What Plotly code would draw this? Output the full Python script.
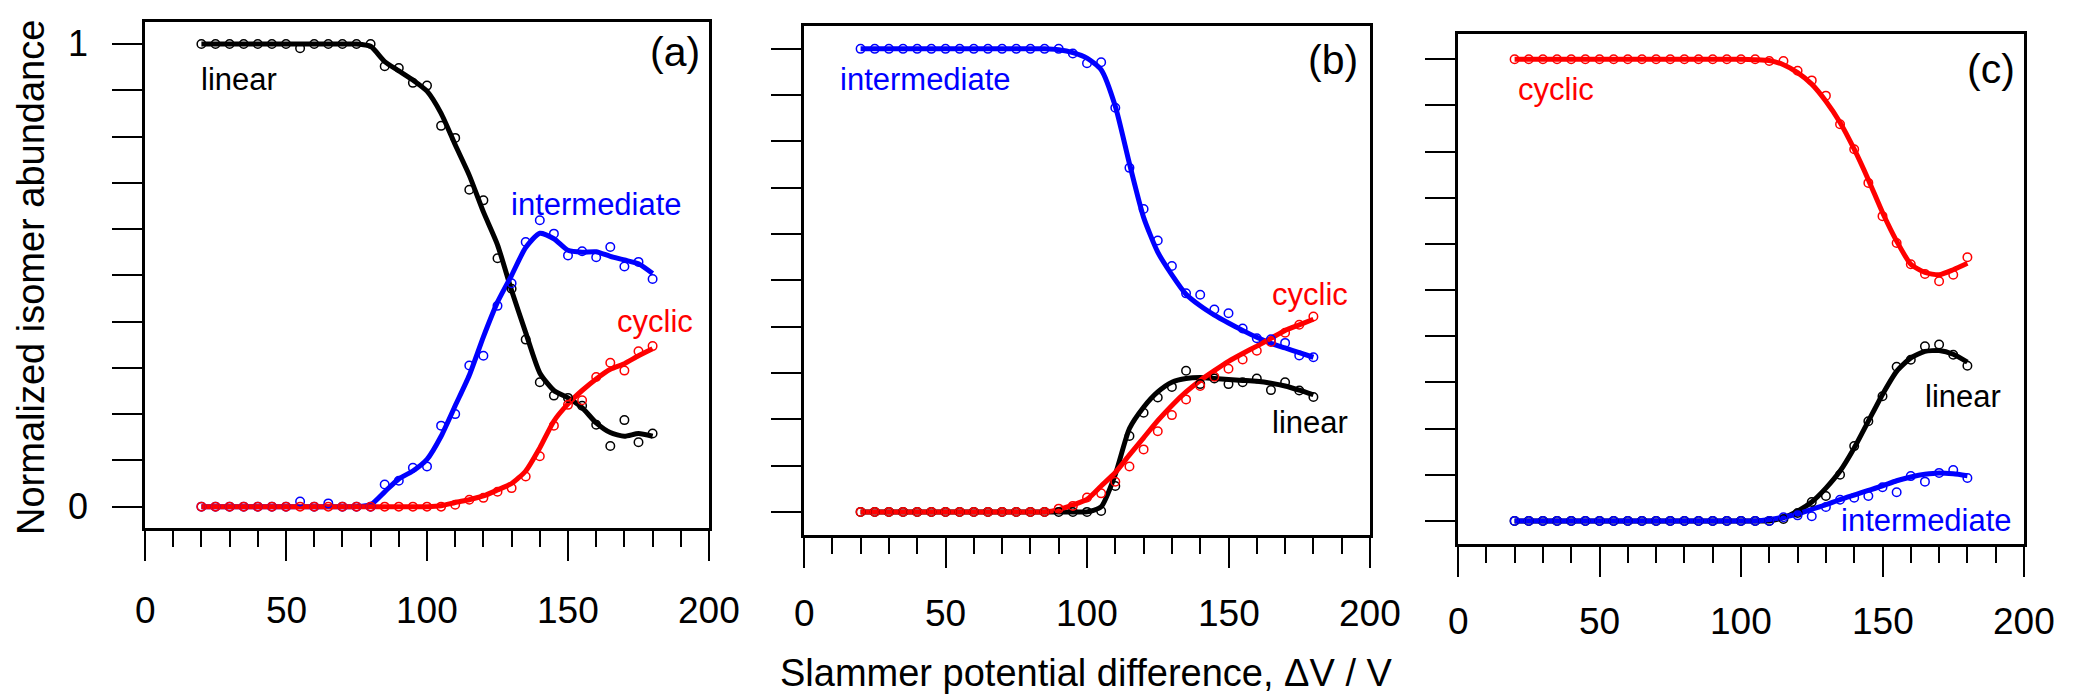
import plotly.graph_objects as go

# ---------------- data ----------------
voltage = [20, 25, 30, 35, 40, 45, 50, 55, 60, 65, 70, 75, 80, 85, 90, 95, 100,
           105, 110, 115, 120, 125, 130, 135, 140, 145, 150, 155, 160, 165, 170, 175, 180]

# panel (a)
lin_a_pts = [1.0, 1.0, 1.0, 1.0, 1.0, 1.0, 1.0, 0.991, 1.0, 1.0, 1.0, 1.0, 1.0,
             0.952, 0.948, 0.916, 0.910, 0.823, 0.797, 0.685, 0.662, 0.537, 0.471, 0.361,
             0.269, 0.240, 0.235, 0.218, 0.177, 0.131, 0.187, 0.139, 0.158]
lin_a_fit = [1.0, 1.0, 1.0, 1.0, 1.0, 1.0, 1.0, 1.0, 1.0, 1.0, 1.0, 1.0, 0.995,
             0.962, 0.942, 0.922, 0.898, 0.850, 0.782, 0.716, 0.637, 0.566, 0.467, 0.376,
             0.289, 0.251, 0.235, 0.214, 0.181, 0.160, 0.152, 0.158, 0.152]
int_a_pts = [0.0, 0.0, 0.0, 0.0, 0.0, 0.0, 0.0, 0.011, 0.0, 0.007, 0.0, 0.0, 0.0,
             0.048, 0.056, 0.084, 0.087, 0.175, 0.200, 0.305, 0.326, 0.434, 0.483, 0.572,
             0.619, 0.590, 0.543, 0.552, 0.539, 0.561, 0.519, 0.529, 0.492]
int_a_fit = [0.0, 0.0, 0.0, 0.0, 0.0, 0.0, 0.0, 0.0, 0.0, 0.0, 0.0, 0.0, 0.004,
             0.032, 0.060, 0.077, 0.102, 0.152, 0.218, 0.284, 0.367, 0.442, 0.500, 0.560,
             0.591, 0.579, 0.554, 0.550, 0.551, 0.541, 0.533, 0.525, 0.504]
cyc_a_pts = [0.0, 0.0, 0.0, 0.0, 0.0, 0.0, 0.0, 0.0, 0.0, 0.0, 0.0, 0.0, 0.0,
             0.0, 0.0, 0.0, 0.0, 0.0, 0.004, 0.015, 0.019, 0.032, 0.040, 0.065,
             0.109, 0.175, 0.220, 0.230, 0.280, 0.311, 0.294, 0.336, 0.347]
cyc_a_fit = [0.0, 0.0, 0.0, 0.0, 0.0, 0.0, 0.0, 0.0, 0.0, 0.0, 0.0, 0.0, 0.0,
             0.0, 0.0, 0.0, 0.0, 0.002, 0.009, 0.015, 0.023, 0.036, 0.050, 0.077,
             0.127, 0.185, 0.222, 0.251, 0.276, 0.297, 0.309, 0.326, 0.341]

# panel (b)
int_b_pts = [1.0, 1.0, 1.0, 1.0, 1.0, 1.0, 1.0, 1.0, 1.0, 1.0, 1.0, 1.0, 1.0,
             1.0, 1.0, 0.990, 0.969, 0.971, 0.873, 0.743, 0.654, 0.586, 0.531, 0.472,
             0.469, 0.437, 0.429, 0.396, 0.375, 0.373, 0.365, 0.338, 0.334]
int_b_fit = [1.0, 1.0, 1.0, 1.0, 1.0, 1.0, 1.0, 1.0, 1.0, 1.0, 1.0, 1.0, 1.0,
             1.0, 0.998, 0.992, 0.980, 0.955, 0.876, 0.752, 0.636, 0.561, 0.512, 0.470,
             0.445, 0.425, 0.408, 0.392, 0.377, 0.364, 0.354, 0.344, 0.334]
lin_b_pts = [0.0, 0.0, 0.0, 0.0, 0.0, 0.0, 0.0, 0.0, 0.0, 0.0, 0.0, 0.0, 0.0,
             0.0, 0.0, 0.0, 0.0, 0.002, 0.056, 0.164, 0.214, 0.247, 0.270, 0.305,
             0.276, 0.288, 0.276, 0.280, 0.288, 0.263, 0.280, 0.262, 0.248]
lin_b_fit = [0.0, 0.0, 0.0, 0.0, 0.0, 0.0, 0.0, 0.0, 0.0, 0.0, 0.0, 0.0, 0.0,
             0.0, 0.0, 0.0, 0.0, 0.011, 0.081, 0.180, 0.226, 0.259, 0.280, 0.288,
             0.290, 0.288, 0.286, 0.284, 0.282, 0.278, 0.272, 0.263, 0.253]
cyc_b_pts = [0.0, 0.0, 0.0, 0.0, 0.0, 0.0, 0.0, 0.0, 0.0, 0.0, 0.0, 0.0, 0.0,
             0.0, 0.007, 0.013, 0.031, 0.040, 0.065, 0.098, 0.135, 0.174, 0.209, 0.243,
             0.272, 0.292, 0.309, 0.329, 0.348, 0.367, 0.387, 0.404, 0.422]
cyc_b_fit = [0.0, 0.0, 0.0, 0.0, 0.0, 0.0, 0.0, 0.0, 0.0, 0.0, 0.0, 0.0, 0.0,
             0.0, 0.005, 0.015, 0.027, 0.056, 0.085, 0.123, 0.160, 0.197, 0.230, 0.259,
             0.284, 0.305, 0.325, 0.342, 0.358, 0.375, 0.392, 0.404, 0.416]

# panel (c)
cyc_c_pts = [1.0, 1.0, 1.0, 1.0, 1.0, 1.0, 1.0, 1.0, 1.0, 1.0, 1.0, 1.0, 1.0,
             1.0, 1.0, 1.0, 1.0, 1.0, 0.996, 0.996, 0.975, 0.954, 0.921, 0.859,
             0.805, 0.732, 0.660, 0.602, 0.556, 0.535, 0.519, 0.533, 0.571]
cyc_c_fit = [1.0, 1.0, 1.0, 1.0, 1.0, 1.0, 1.0, 1.0, 1.0, 1.0, 1.0, 1.0, 1.0,
             1.0, 1.0, 1.0, 1.0, 0.999, 0.997, 0.988, 0.971, 0.946, 0.909, 0.863,
             0.805, 0.739, 0.668, 0.606, 0.556, 0.538, 0.533, 0.544, 0.558]
lin_c_pts = [0.0, 0.0, 0.0, 0.0, 0.0, 0.0, 0.0, 0.0, 0.0, 0.0, 0.0, 0.0, 0.0,
             0.0, 0.0, 0.0, 0.0, 0.0, 0.0, 0.004, 0.017, 0.041, 0.054, 0.100,
             0.162, 0.216, 0.270, 0.334, 0.349, 0.378, 0.382, 0.360, 0.336]
lin_c_fit = [0.0, 0.0, 0.0, 0.0, 0.0, 0.0, 0.0, 0.0, 0.0, 0.0, 0.0, 0.0, 0.0,
             0.0, 0.0, 0.0, 0.0, 0.0, 0.0, 0.007, 0.021, 0.041, 0.071, 0.108,
             0.158, 0.216, 0.274, 0.324, 0.353, 0.367, 0.369, 0.361, 0.344]
int_c_pts = [0.0, 0.0, 0.0, 0.0, 0.0, 0.0, 0.0, 0.0, 0.0, 0.0, 0.0, 0.0, 0.0,
             0.0, 0.0, 0.0, 0.0, 0.0, 0.0, 0.008, 0.012, 0.010, 0.030, 0.046,
             0.050, 0.054, 0.073, 0.062, 0.097, 0.085, 0.104, 0.110, 0.093]
int_c_fit = [0.0, 0.0, 0.0, 0.0, 0.0, 0.0, 0.0, 0.0, 0.0, 0.0, 0.0, 0.0, 0.0,
             0.0, 0.0, 0.0, 0.0, 0.0, 0.003, 0.008, 0.015, 0.025, 0.035, 0.046,
             0.056, 0.066, 0.076, 0.087, 0.095, 0.101, 0.104, 0.102, 0.098]

x_tick_vals = [0, 50, 100, 150, 200]
x_tick_text = ["0", "50", "100", "150", "200"]
y_tick_vals = [0, 0.1, 0.2, 0.3, 0.4, 0.5, 0.6, 0.7, 0.8, 0.9, 1.0]
y_label_vals = [0, 1]
y_label_text = ["0", "1"]
panel_names = ["(a)", "(b)", "(c)"]
x_title = "Slammer potential difference, ΔV / V"
y_title = "Normalized isomer abundance"

# ---------------- styling ----------------
BLACK = "#000000"
BLUE = "#0000ff"
RED = "#ff0000"
FONT = "Arial, 'Liberation Sans', sans-serif"

W, H = 2085, 697
# pixel frames of the three panels: (left, right, top, bottom)
frames = [(145, 709, 22, 528), (804, 1370, 26, 535), (1458, 2024, 34, 544)]
yranges = [[-0.0462, 1.0475], [-0.0499, 1.0494], [-0.0500, 1.0545]]
xlabel_y = [610, 613, 621]

panels = [
    [(lin_a_pts, lin_a_fit, BLACK), (int_a_pts, int_a_fit, BLUE), (cyc_a_pts, cyc_a_fit, RED)],
    [(int_b_pts, int_b_fit, BLUE), (lin_b_pts, lin_b_fit, BLACK), (cyc_b_pts, cyc_b_fit, RED)],
    [(cyc_c_pts, cyc_c_fit, RED), (lin_c_pts, lin_c_fit, BLACK), (int_c_pts, int_c_fit, BLUE)],
]

fig = go.Figure()
for i, series in enumerate(panels):
    sfx = "" if i == 0 else str(i + 1)
    for pts, fit, col in series:
        fig.add_trace(go.Scatter(x=voltage, y=fit, mode="lines",
                                 line=dict(color=col, width=5, shape="spline", smoothing=0.6),
                                 xaxis="x" + sfx, yaxis="y" + sfx, showlegend=False,
                                 hoverinfo="skip"))
    for pts, fit, col in series:
        fig.add_trace(go.Scatter(x=voltage, y=pts, mode="markers",
                                 marker=dict(symbol="circle-open", size=8.5, color=col,
                                             line=dict(width=1.5, color=col)),
                                 xaxis="x" + sfx, yaxis="y" + sfx, showlegend=False))

layout = dict(width=W, height=H, margin=dict(l=0, r=0, t=0, b=0),
              paper_bgcolor="white", plot_bgcolor="white",
              font=dict(family=FONT, color=BLACK))

for i, (l, r, t, b) in enumerate(frames):
    sfx = "" if i == 0 else str(i + 1)
    layout["xaxis" + sfx] = dict(
        domain=[l / W, r / W], range=[0, 200], anchor="y" + sfx,
        tickvals=x_tick_vals, showticklabels=False,
        ticks="outside", ticklen=30, tickwidth=2.2, tickcolor=BLACK,
        minor=dict(dtick=10, tick0=0, ticks="outside", ticklen=16, tickwidth=2, tickcolor=BLACK),
        showline=True, mirror=True, linewidth=3, linecolor=BLACK,
        showgrid=False, zeroline=False)
    layout["yaxis" + sfx] = dict(
        domain=[1 - b / H, 1 - t / H], range=yranges[i], anchor="x" + sfx,
        tickvals=y_tick_vals, showticklabels=False,
        ticks="outside", ticklen=30, tickwidth=2.4, tickcolor=BLACK,
        showline=True, mirror=True, linewidth=3, linecolor=BLACK,
        showgrid=False, zeroline=False)

fig.update_layout(**layout)

SER = 31
ann = []
def label(text, x, y, ref, col, anchor, size=SER):
    ann.append(dict(text=text, x=x, y=y, xref="x" + ref, yref="y" + ref, showarrow=False,
                    xanchor=anchor, yanchor="middle", font=dict(size=size, color=col, family=FONT)))

# x tick labels (below each panel)
for i in range(3):
    sfx = "" if i == 0 else str(i + 1)
    for v, t in zip(x_tick_vals, x_tick_text):
        ann.append(dict(text=t, x=v, y=1 - xlabel_y[i] / H, xref="x" + sfx, yref="paper",
                        showarrow=False, xanchor="center", yanchor="middle",
                        font=dict(size=37, family=FONT, color=BLACK)))
# y tick labels (panel a only)
for v, t in zip(y_label_vals, y_label_text):
    ann.append(dict(text=t, x=78 / W, y=v, xref="paper", yref="y", showarrow=False,
                    xanchor="center", yanchor="middle",
                    font=dict(size=36, family=FONT, color=BLACK)))

# panel (a)
label("linear", 19, 0.924, "", BLACK, "left")
label("intermediate", 129, 0.653, "", BLUE, "left")
label("cyclic", 195, 0.40, "", RED, "right")
label(panel_names[0], 197.5, 0.983, "", BLACK, "right", 41)
# panel (b)
label("intermediate", 12, 0.934, "2", BLUE, "left")
label("cyclic", 193, 0.47, "2", RED, "right")
label("linear", 193, 0.193, "2", BLACK, "right")
label(panel_names[1], 196.5, 0.975, "2", BLACK, "right", 41)
# panel (c)
label("cyclic", 20.4, 0.934, "3", RED, "left")
label("linear", 192.6, 0.27, "3", BLACK, "right")
label("intermediate", 196.5, 0.0, "3", BLUE, "right")
label(panel_names[2], 197.5, 0.979, "3", BLACK, "right", 41)

# axis titles
ann.append(dict(text=y_title, x=31 / W, y=1 - 278 / H, xref="paper", yref="paper",
                showarrow=False, textangle=-90, xanchor="center", yanchor="middle",
                font=dict(size=38, family=FONT, color=BLACK)))
ann.append(dict(text=x_title, x=1086 / W, y=1 - 673 / H, xref="paper", yref="paper",
                showarrow=False, xanchor="center", yanchor="middle",
                font=dict(size=38, family=FONT, color=BLACK)))
fig.update_layout(annotations=ann)

fig.write_html("out.html", config={"displayModeBar": False},
               post_script="document.body.style.margin='0';document.body.style.overflow='hidden';")
